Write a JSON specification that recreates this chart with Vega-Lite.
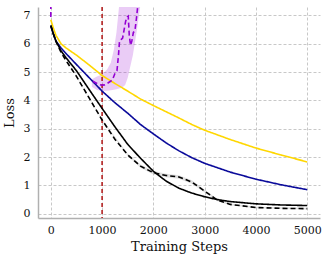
{
  "$schema": "https://vega.github.io/schema/vega-lite/v6.json",
  "width": 282,
  "height": 211,
  "autosize": {"type": "none"},
  "padding": {"left": 38, "top": 7, "right": 9, "bottom": 43},
  "background": "white",
  "config": {
    "view": {"stroke": null},
    "font": "DejaVu Serif",
    "axis": {
      "labelFont": "DejaVu Serif",
      "titleFont": "DejaVu Serif",
      "labelFontSize": 11,
      "titleFontSize": 13,
      "titleFontWeight": "normal",
      "labelColor": "#111",
      "titleColor": "#111",
      "labelOverlap": false,
      "ticks": false,
      "domainColor": "#b0b0b0",
      "domainWidth": 1.5,
      "gridColor": "#c8c8c8",
      "gridDash": [3, 2],
      "gridWidth": 1
    }
  },
  "datasets": {
    "lines": [
      {"step": 0, "loss": 6.85, "run": "A", "seg": 1},
      {"step": 50, "loss": 6.55, "run": "A", "seg": 1},
      {"step": 100, "loss": 6.3, "run": "A", "seg": 1},
      {"step": 200, "loss": 6.0, "run": "A", "seg": 1},
      {"step": 300, "loss": 5.85, "run": "A", "seg": 1},
      {"step": 500, "loss": 5.6, "run": "A", "seg": 1},
      {"step": 750, "loss": 5.25, "run": "A", "seg": 1},
      {"step": 1000, "loss": 4.88, "run": "A", "seg": 1},
      {"step": 1250, "loss": 4.6, "run": "A", "seg": 1},
      {"step": 1500, "loss": 4.33, "run": "A", "seg": 1},
      {"step": 1750, "loss": 4.05, "run": "A", "seg": 1},
      {"step": 2000, "loss": 3.82, "run": "A", "seg": 1},
      {"step": 2250, "loss": 3.6, "run": "A", "seg": 1},
      {"step": 2500, "loss": 3.38, "run": "A", "seg": 1},
      {"step": 2750, "loss": 3.15, "run": "A", "seg": 1},
      {"step": 3000, "loss": 2.95, "run": "A", "seg": 1},
      {"step": 3500, "loss": 2.62, "run": "A", "seg": 1},
      {"step": 4000, "loss": 2.32, "run": "A", "seg": 1},
      {"step": 4500, "loss": 2.07, "run": "A", "seg": 1},
      {"step": 5000, "loss": 1.83, "run": "A", "seg": 1},

      {"step": 0, "loss": 6.62, "run": "B", "seg": 1},
      {"step": 50, "loss": 6.35, "run": "B", "seg": 1},
      {"step": 100, "loss": 6.1, "run": "B", "seg": 1},
      {"step": 200, "loss": 5.85, "run": "B", "seg": 1},
      {"step": 300, "loss": 5.65, "run": "B", "seg": 1},
      {"step": 500, "loss": 5.27, "run": "B", "seg": 1},
      {"step": 750, "loss": 4.8, "run": "B", "seg": 1},
      {"step": 1000, "loss": 4.33, "run": "B", "seg": 1},
      {"step": 1250, "loss": 3.92, "run": "B", "seg": 1},
      {"step": 1500, "loss": 3.55, "run": "B", "seg": 1},
      {"step": 1750, "loss": 3.15, "run": "B", "seg": 1},
      {"step": 2000, "loss": 2.82, "run": "B", "seg": 1},
      {"step": 2250, "loss": 2.5, "run": "B", "seg": 1},
      {"step": 2500, "loss": 2.22, "run": "B", "seg": 1},
      {"step": 2750, "loss": 1.98, "run": "B", "seg": 1},
      {"step": 3000, "loss": 1.78, "run": "B", "seg": 1},
      {"step": 3500, "loss": 1.47, "run": "B", "seg": 1},
      {"step": 4000, "loss": 1.22, "run": "B", "seg": 1},
      {"step": 4500, "loss": 1.02, "run": "B", "seg": 1},
      {"step": 5000, "loss": 0.85, "run": "B", "seg": 1},

      {"step": 0, "loss": 6.65, "run": "C", "seg": 1},
      {"step": 50, "loss": 6.35, "run": "C", "seg": 1},
      {"step": 100, "loss": 6.1, "run": "C", "seg": 1},
      {"step": 200, "loss": 5.75, "run": "C", "seg": 1},
      {"step": 300, "loss": 5.5, "run": "C", "seg": 1},
      {"step": 500, "loss": 5.05, "run": "C", "seg": 1},
      {"step": 750, "loss": 4.38, "run": "C", "seg": 1},
      {"step": 1000, "loss": 3.72, "run": "C", "seg": 1},
      {"step": 1250, "loss": 3.07, "run": "C", "seg": 1},
      {"step": 1500, "loss": 2.45, "run": "C", "seg": 1},
      {"step": 1750, "loss": 1.96, "run": "C", "seg": 1},
      {"step": 2000, "loss": 1.5, "run": "C", "seg": 1},
      {"step": 2250, "loss": 1.15, "run": "C", "seg": 1},
      {"step": 2500, "loss": 0.9, "run": "C", "seg": 1},
      {"step": 2750, "loss": 0.73, "run": "C", "seg": 1},
      {"step": 3000, "loss": 0.6, "run": "C", "seg": 1},
      {"step": 3250, "loss": 0.5, "run": "C", "seg": 1},
      {"step": 3500, "loss": 0.43, "run": "C", "seg": 1},
      {"step": 4000, "loss": 0.35, "run": "C", "seg": 1},
      {"step": 4500, "loss": 0.31, "run": "C", "seg": 1},
      {"step": 5000, "loss": 0.29, "run": "C", "seg": 1},

      {"step": 0, "loss": 6.65, "run": "D", "seg": 1},
      {"step": 50, "loss": 6.35, "run": "D", "seg": 1},
      {"step": 100, "loss": 6.08, "run": "D", "seg": 1},
      {"step": 200, "loss": 5.7, "run": "D", "seg": 1},
      {"step": 300, "loss": 5.4, "run": "D", "seg": 1},
      {"step": 500, "loss": 4.85, "run": "D", "seg": 1},
      {"step": 750, "loss": 4.08, "run": "D", "seg": 1},
      {"step": 1000, "loss": 3.31, "run": "D", "seg": 1},
      {"step": 1250, "loss": 2.63, "run": "D", "seg": 1},
      {"step": 1500, "loss": 2.08, "run": "D", "seg": 1},
      {"step": 1750, "loss": 1.68, "run": "D", "seg": 1},
      {"step": 2000, "loss": 1.45, "run": "D", "seg": 1},
      {"step": 2250, "loss": 1.35, "run": "D", "seg": 1},
      {"step": 2500, "loss": 1.3, "run": "D", "seg": 1},
      {"step": 2750, "loss": 1.12, "run": "D", "seg": 1},
      {"step": 3000, "loss": 0.8, "run": "D", "seg": 1},
      {"step": 3250, "loss": 0.48, "run": "D", "seg": 1},
      {"step": 3500, "loss": 0.33, "run": "D", "seg": 1},
      {"step": 4000, "loss": 0.22, "run": "D", "seg": 1},
      {"step": 4500, "loss": 0.19, "run": "D", "seg": 1},
      {"step": 5000, "loss": 0.18, "run": "D", "seg": 1},

      {"step": 0, "loss": 6.95, "run": "E", "seg": 1},
      {"step": 5, "loss": 60, "run": "E", "seg": 1},
      {"step": 820, "loss": 4.68, "run": "E", "seg": 2},
      {"step": 900, "loss": 4.6, "run": "E", "seg": 2},
      {"step": 950, "loss": 4.56, "run": "E", "seg": 2},
      {"step": 1000, "loss": 4.54, "run": "E", "seg": 2},
      {"step": 1050, "loss": 4.55, "run": "E", "seg": 2},
      {"step": 1100, "loss": 4.6, "run": "E", "seg": 2},
      {"step": 1150, "loss": 4.66, "run": "E", "seg": 2},
      {"step": 1200, "loss": 4.72, "run": "E", "seg": 2},
      {"step": 1250, "loss": 4.95, "run": "E", "seg": 2},
      {"step": 1290, "loss": 5.05, "run": "E", "seg": 2},
      {"step": 1320, "loss": 5.6, "run": "E", "seg": 2},
      {"step": 1340, "loss": 6.1, "run": "E", "seg": 2},
      {"step": 1370, "loss": 6.15, "run": "E", "seg": 2},
      {"step": 1400, "loss": 6.2, "run": "E", "seg": 2},
      {"step": 1430, "loss": 6.5, "run": "E", "seg": 2},
      {"step": 1460, "loss": 6.8, "run": "E", "seg": 2},
      {"step": 1490, "loss": 6.95, "run": "E", "seg": 2},
      {"step": 1510, "loss": 6.98, "run": "E", "seg": 2},
      {"step": 1530, "loss": 6.3, "run": "E", "seg": 2},
      {"step": 1555, "loss": 5.95, "run": "E", "seg": 2},
      {"step": 1580, "loss": 6.1, "run": "E", "seg": 2},
      {"step": 1610, "loss": 6.4, "run": "E", "seg": 2},
      {"step": 1640, "loss": 6.45, "run": "E", "seg": 2},
      {"step": 1670, "loss": 6.9, "run": "E", "seg": 2},
      {"step": 1700, "loss": 7.4, "run": "E", "seg": 2},
      {"step": 1730, "loss": 8.0, "run": "E", "seg": 2}
    ],
    "bands": [
      {"step": 0, "lo": 6.64, "hi": 6.66, "run": "D"},
      {"step": 500, "lo": 4.83, "hi": 4.87, "run": "D"},
      {"step": 1000, "lo": 3.28, "hi": 3.34, "run": "D"},
      {"step": 1500, "lo": 2.04, "hi": 2.12, "run": "D"},
      {"step": 1750, "lo": 1.62, "hi": 1.74, "run": "D"},
      {"step": 2000, "lo": 1.39, "hi": 1.51, "run": "D"},
      {"step": 2250, "lo": 1.29, "hi": 1.41, "run": "D"},
      {"step": 2500, "lo": 1.24, "hi": 1.36, "run": "D"},
      {"step": 2750, "lo": 1.06, "hi": 1.18, "run": "D"},
      {"step": 3000, "lo": 0.75, "hi": 0.85, "run": "D"},
      {"step": 3250, "lo": 0.44, "hi": 0.52, "run": "D"},
      {"step": 3500, "lo": 0.3, "hi": 0.36, "run": "D"},
      {"step": 4000, "lo": 0.19, "hi": 0.25, "run": "D"},
      {"step": 5000, "lo": 0.15, "hi": 0.21, "run": "D"},

      {"step": 800, "lo": 4.48, "hi": 4.75, "run": "E"},
      {"step": 900, "lo": 4.37, "hi": 4.85, "run": "E"},
      {"step": 1000, "lo": 4.33, "hi": 4.92, "run": "E"},
      {"step": 1100, "lo": 4.34, "hi": 5.1, "run": "E"},
      {"step": 1170, "lo": 4.36, "hi": 5.33, "run": "E"},
      {"step": 1230, "lo": 4.38, "hi": 5.8, "run": "E"},
      {"step": 1280, "lo": 4.4, "hi": 6.4, "run": "E"},
      {"step": 1330, "lo": 4.42, "hi": 7.3, "run": "E"},
      {"step": 1380, "lo": 4.44, "hi": 8.0, "run": "E"},
      {"step": 1450, "lo": 4.55, "hi": 8.0, "run": "E"},
      {"step": 1500, "lo": 4.8, "hi": 8.0, "run": "E"},
      {"step": 1600, "lo": 5.6, "hi": 8.0, "run": "E"},
      {"step": 1680, "lo": 6.5, "hi": 8.0, "run": "E"},
      {"step": 1750, "lo": 7.4, "hi": 8.0, "run": "E"}
    ],
    "marker": [{"step": 1000}]
  },
  "encoding": {
    "x": {"field": "step", "type": "quantitative", "scale": {"domain": [-250, 5250], "nice": false},
      "axis": {"title": "Training Steps", "values": [0, 1000, 2000, 3000, 4000, 5000], "labelPadding": 6, "titlePadding": 5, "format": "d", "labelOverlap": false}}
  },
  "layer": [
    {
      "data": {"name": "bands"},
      "mark": {"type": "area", "clip": true},
      "encoding": {
        "y": {"field": "lo", "type": "quantitative", "scale": {"domain": [-0.15, 7.3], "nice": false, "zero": false},
          "axis": {"title": "Loss", "values": [0, 1, 2, 3, 4, 5, 6, 7], "labelPadding": 8, "titlePadding": 7, "labelOverlap": false, "format": "d"}},
        "y2": {"field": "hi"},
        "detail": {"field": "run"},
        "color": {"field": "run", "type": "nominal", "legend": null,
          "scale": {"domain": ["D", "E"], "range": ["#999999", "#9400d3"]}},
        "opacity": {"field": "run", "type": "nominal", "legend": null,
          "scale": {"domain": ["D", "E"], "range": [0.3, 0.2]}}
      }
    },
    {
      "data": {"name": "marker"},
      "mark": {"type": "rule", "color": "#b01515", "strokeDash": [4, 3], "strokeWidth": 1.5},
      "encoding": {}
    },
    {
      "data": {"name": "lines"},
      "mark": {"type": "line", "clip": true, "strokeWidth": 1.6},
      "encoding": {
        "y": {"field": "loss", "type": "quantitative",
          "axis": {"title": "Loss", "values": [0, 1, 2, 3, 4, 5, 6, 7], "labelPadding": 8, "titlePadding": 7, "labelOverlap": false, "format": "d"}},
        "detail": {"field": "seg"},
        "color": {"field": "run", "type": "nominal", "legend": null,
          "scale": {"domain": ["A", "B", "C", "D", "E"], "range": ["#ffd700", "#0a0a9a", "#000000", "#000000", "#9400d3"]}},
        "strokeDash": {"field": "run", "type": "nominal", "legend": null,
          "scale": {"domain": ["A", "B", "C", "D", "E"], "range": [[1, 0], [1, 0], [1, 0], [5, 3], [5, 3]]}}
      }
    }
  ],
  "resolve": {"scale": {"color": "independent", "opacity": "independent", "strokeDash": "independent"}}
}
